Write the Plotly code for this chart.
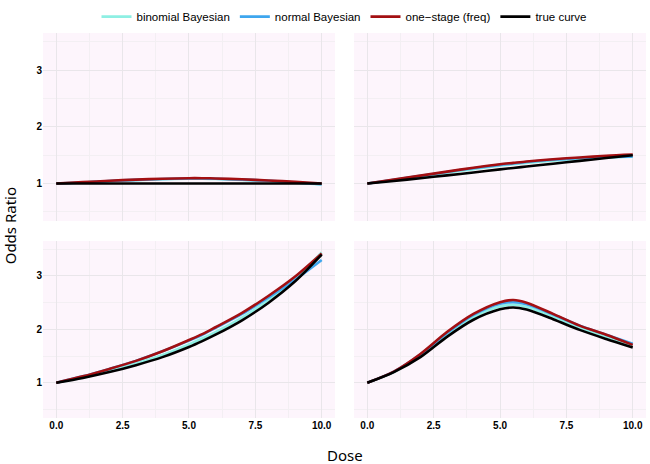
import plotly.graph_objects as go

dose = [0, 1, 2, 3, 4, 5, 5.5, 6, 7, 8, 9, 10]

# panel 1 (top-left)
p1_binom = [1.0, 1.02, 1.04, 1.06, 1.075, 1.085, 1.085, 1.08, 1.065, 1.045, 1.015, 0.985]
p1_normal = [1.0, 1.02, 1.045, 1.065, 1.08, 1.09, 1.09, 1.085, 1.07, 1.05, 1.02, 0.99]
p1_freq = [1.0, 1.025, 1.05, 1.07, 1.085, 1.095, 1.095, 1.09, 1.075, 1.055, 1.03, 1.0]
p1_true = [1.0, 1.0, 1.0, 1.0, 1.0, 1.0, 1.0, 1.0, 1.0, 1.0, 1.0, 1.0]

# panel 2 (top-right)
p2_binom = [1.0, 1.06, 1.125, 1.19, 1.255, 1.315, 1.34, 1.365, 1.405, 1.435, 1.46, 1.475]
p2_normal = [1.0, 1.065, 1.135, 1.205, 1.27, 1.33, 1.355, 1.38, 1.42, 1.45, 1.47, 1.48]
p2_freq = [1.0, 1.07, 1.14, 1.21, 1.28, 1.34, 1.365, 1.39, 1.43, 1.46, 1.49, 1.51]
p2_true = [1.0, 1.045, 1.095, 1.145, 1.195, 1.25, 1.275, 1.30, 1.35, 1.40, 1.45, 1.50]

# panel 3 (bottom-left)
p3_binom = [1.0, 1.10, 1.22, 1.36, 1.52, 1.72, 1.83, 1.95, 2.22, 2.55, 2.95, 3.44]
p3_normal = [1.0, 1.12, 1.26, 1.41, 1.59, 1.79, 1.90, 2.03, 2.29, 2.60, 2.93, 3.30]
p3_freq = [1.0, 1.12, 1.26, 1.41, 1.59, 1.80, 1.91, 2.04, 2.31, 2.63, 2.99, 3.42]
p3_true = [1.0, 1.09, 1.20, 1.33, 1.48, 1.67, 1.78, 1.90, 2.17, 2.50, 2.90, 3.40]

# panel 4 (bottom-right)
p4_binom = [1.0, 1.20, 1.51, 1.90, 2.23, 2.43, 2.46, 2.42, 2.24, 2.03, 1.86, 1.70]
p4_normal = [1.0, 1.21, 1.53, 1.93, 2.27, 2.48, 2.51, 2.47, 2.28, 2.07, 1.90, 1.73]
p4_freq = [1.0, 1.21, 1.54, 1.95, 2.29, 2.51, 2.55, 2.50, 2.29, 2.07, 1.90, 1.71]
p4_true = [1.0, 1.20, 1.48, 1.86, 2.18, 2.375, 2.41, 2.37, 2.19, 1.99, 1.82, 1.66]

series_names = ["binomial Bayesian", "normal Bayesian", "one\u2212stage (freq)", "true curve"]
series_colors = ["#8EEFE3", "#3EA6EE", "#A30F12", "#000000"]
x_ticks = [0, 2.5, 5, 7.5, 10]
x_tick_labels = ["0.0", "2.5", "5.0", "7.5", "10.0"]
y_ticks = [1, 2, 3]

panels = [
    [p1_binom, p1_normal, p1_freq, p1_true],
    [p2_binom, p2_normal, p2_freq, p2_true],
    [p3_binom, p3_normal, p3_freq, p3_true],
    [p4_binom, p4_normal, p4_freq, p4_true],
]

fig = go.Figure()
for pi, data in enumerate(panels):
    ax = "" if pi == 0 else str(pi + 1)
    for si, vals in enumerate(data):
        fig.add_trace(go.Scatter(
            x=dose, y=vals, mode="lines",
            line=dict(color=series_colors[si], width=2.6, shape="spline", smoothing=0.8),
            name=series_names[si], legendgroup=series_names[si],
            showlegend=(pi == 0),
            xaxis="x" + ax, yaxis="y" + ax,
        ))

panel_bg = "#FDF5FC"
grid_major = "#E9E6EA"
grid_minor = "#F3EFF3"
tickfont = dict(family="Liberation Sans, Arial", size=10, color="black", weight="bold")

xdom = [[0, 0.4842], [0.5158, 1.0]]
ydom = [[0.5117, 1.0], [0.0, 0.4597]]

layout = dict(
    width=650, height=464,
    margin=dict(l=43, r=4, t=33, b=46, autoexpand=False),
    paper_bgcolor="white",
    plot_bgcolor=panel_bg,
    showlegend=True,
    legend=dict(orientation="h", x=0.5, xanchor="center", y=1.005, yanchor="bottom",
                font=dict(family="Liberation Sans, Arial", size=11.5, color="black"),
                bgcolor="rgba(0,0,0,0)", tracegroupgap=0),
)

shapes = []
for pi in range(4):
    col = pi % 2
    row = pi // 2
    ax = "" if pi == 0 else str(pi + 1)
    xkey = "xaxis" + ax
    ykey = "yaxis" + ax
    layout[xkey] = dict(
        domain=xdom[col], range=[-0.5, 10.5], anchor="y" + ax, automargin=False,
        tickvals=x_ticks, ticktext=x_tick_labels, showticklabels=(row == 1),
        tickfont=tickfont, ticks="", showgrid=True, gridcolor=grid_major, gridwidth=1,
        minor=dict(tickvals=[1.25, 3.75, 6.25, 8.75], showgrid=True, gridcolor=grid_minor, gridwidth=1),
        zeroline=False, showline=False,
    )
    layout[ykey] = dict(
        domain=ydom[row], range=[0.34, 3.655], anchor="x" + ax, automargin=False,
        tickvals=y_ticks, showticklabels=(col == 0),
        tickfont=tickfont, ticks="", showgrid=True, gridcolor=grid_major, gridwidth=1,
        minor=dict(tickvals=[0.5, 1.5, 2.5, 3.5], showgrid=True, gridcolor=grid_minor, gridwidth=1),
        zeroline=False, showline=False,
    )
    shapes.append(dict(type="rect", xref=("x" + ax) + " domain", yref=("y" + ax) + " domain",
                       x0=0, x1=1, y0=0, y1=1, fillcolor=panel_bg, line=dict(width=0), layer="below"))

layout["shapes"] = shapes
layout["annotations"] = [
    dict(text="Dose", x=0.5, y=-0.095, xref="paper", yref="paper", xanchor="center", yanchor="middle",
         showarrow=False, font=dict(family="Noto Sans, DejaVu Sans", size=15, color="black")),
    dict(text="Odds Ratio", x=-0.055, y=0.5, xref="paper", yref="paper", xanchor="center", yanchor="middle",
         textangle=-90, showarrow=False, font=dict(family="Noto Sans, DejaVu Sans", size=15, color="black")),
]

fig.update_layout(**layout)
fig.write_html("out.html", config={"displayModeBar": False},
               post_script="document.body.style.margin='0px';document.body.style.overflow='hidden';")
